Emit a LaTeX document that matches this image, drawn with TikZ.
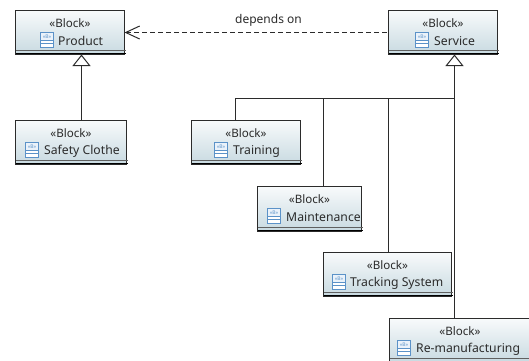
\documentclass[tikz,border=0pt]{standalone}
\usepackage{fontspec}
\setmainfont{Noto Sans}
\usetikzlibrary{arrows.meta,calc}
\definecolor{ink}{HTML}{2B2B2B}
\definecolor{iconblue}{HTML}{5B92C8}
\definecolor{icontop}{HTML}{EAF2FA}
\definecolor{boxtop}{HTML}{F8FAFB}
\definecolor{boxbot}{HTML}{C8DAE1}
\tikzset{
  blockbox/.style={draw=ink,line width=1pt,top color=boxtop,bottom color=boxbot,inner sep=0pt,outer sep=0pt,anchor=north west},
  stereo/.style={font=\fontsize{11.6}{13}\selectfont,text=ink,inner sep=0pt},
  title/.style={font=\fontsize{12.2}{14}\selectfont,text=ink,inner sep=0pt,anchor=west},
  edgelabel/.style={font=\fontsize{12}{14}\selectfont,text=ink,inner sep=0pt},
  iconbody/.style={draw=iconblue,fill=white,line width=1pt},
  iconfill/.style={draw=iconblue,fill=icontop,line width=1pt},
  iconmark/.style={font=\fontsize{5}{5}\selectfont,text=iconblue,inner sep=0pt},
  genline/.style={draw=ink,line width=1pt},
  genarrow/.style={genline,{Triangle[open,fill=white,length=11.5pt,width=18pt,line width=1pt]}-},
  deparrow/.style={draw=ink,line width=1pt,dash pattern=on 5pt off 3pt,{Straight Barb[length=14pt,width=13pt,line width=1pt]}-}
}
% name, left, top, right, bottom, icon left, text left, icon top, title
\newcommand{\umlblock}[9]{%
  \node[blockbox,minimum width={(#4)-(#2)},minimum height={(#5)-(#3)}] (#1) at (#2,#3) {};
  \draw[draw=ink!75,line width=1pt] (#2,#5-3.5) -- (#4+1.5,#5-3.5);
  \draw[draw=black,line width=1.5pt] (#2,#5-0.5) -- (#4+1.5,#5-0.5);
  \node[stereo] (#1s) at ($(#1.north)+(0,13)$) {«Block»};
  \draw[iconbody] (#6,#8) rectangle (#6+13,#8+15);
  \draw[iconfill] (#6,#8) rectangle (#6+13,#8+8);
  \draw[draw=iconblue,line width=1pt] (#6,#8+11) -- (#6+13,#8+11);
  \node[iconmark] (#1i) at (#6+6.5,#8+4) {«B»};
  \node[title] (#1t) at (#7,#8+8.5) {#9};
}
\begin{document}
\begin{tikzpicture}[x=1pt,y=-1pt]
\useasboundingbox (0,0) rectangle (529,360);
\clip (0,0) rectangle (529,360);
\fill[white] (0,0) rectangle (529,360);
\umlblock{product}{15.5}{10.5}{124.5}{54}{40.5}{58}{32.5}{Product}
\umlblock{service}{388.5}{10.5}{497.5}{54}{415.5}{434}{32.5}{Service}
\umlblock{safety}{15.5}{120.5}{126.5}{164}{25.5}{44}{142.5}{Safety Clothe}
\umlblock{training}{191.5}{120.5}{300.5}{164}{214.5}{233}{142.5}{Training}
\umlblock{maint}{257.5}{186.5}{361.5}{231}{267.5}{286}{208.5}{Maintenance}
\umlblock{tracking}{323.5}{252.5}{451.5}{296}{332.5}{350}{274.5}{Tracking System}
\umlblock{reman}{389.5}{318.5}{530.5}{362}{397.5}{416}{340.5}{Re-manufacturing}
\coordinate (productin) at (81.5,54.5);
\coordinate (servicein) at (454.5,54.5);
\coordinate (bus) at (454.5,98.5);
\coordinate (trainbus) at (235.5,98.5);
\coordinate (maintbus) at (323.5,98.5);
\coordinate (trackbus) at (388.5,98.5);
\draw[genarrow] (productin) -- (productin |- safety.north);
\draw[genarrow] (servicein) -- (servicein |- reman.north);
\draw[genline] (bus) -- (trainbus) -- (trainbus |- training.north);
\draw[genline] (maintbus) -- (maintbus |- maint.north);
\draw[genline] (trackbus) -- (trackbus |- tracking.north);
\draw[deparrow] (product.east |- 0,32.5) -- (service.west |- 0,32.5);
\node[edgelabel] (dep) at (268.5,20) {depends on};
\end{tikzpicture}
\end{document}
